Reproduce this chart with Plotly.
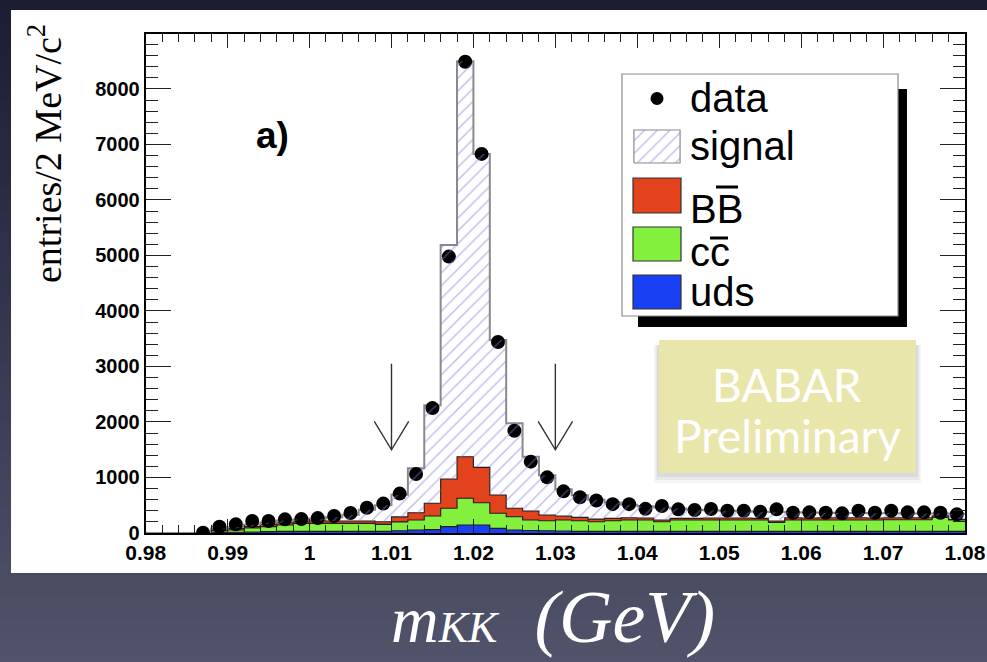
import plotly.graph_objects as go

W, H = 987, 662

# 2 MeV/c^2 binning in m(KK)
BIN_LO, BIN_W, N_BINS = 0.980, 0.002, 50
bin_edges = [round(BIN_LO + BIN_W * i, 3) for i in range(N_BINS + 1)]
bin_centers = [round(BIN_LO + BIN_W * (i + 0.5), 3) for i in range(N_BINS)]

data_counts = [None, None, None, 5, 114, 156, 216, 216, 246, 250,
               268, 306, 360, 455, 530, 710, 1063, 2250, 4980, 8490,
               6830, 3440, 1843, 1285, 1003, 750, 643, 585, 520, 520,
               435, 486, 426, 414, 432, 402, 402, 384, 426, 366,
               372, 366, 354, 402, 366, 402, 372, 372, 366, 336]
uds = [0, 0, 0, 0, 12, 14, 18, 24, 30, 30,
       30, 30, 30, 30, 30, 40, 54, 60, 114, 144,
       144, 84, 54, 45, 40, 36, 30, 30, 30, 30,
       30, 30, 30, 30, 30, 30, 30, 30, 30, 30,
       30, 30, 30, 30, 30, 30, 30, 30, 30, 30]
ccbar = [0, 0, 0, 0, 30, 40, 72, 90, 114, 144,
         144, 144, 144, 144, 126, 160, 180, 246, 331, 481,
         402, 271, 240, 189, 180, 198, 192, 174, 192, 204,
         204, 174, 204, 204, 204, 204, 204, 204, 162, 204,
         204, 204, 204, 204, 204, 210, 210, 210, 252, 204]
bbbar = [0, 0, 0, 0, 24, 30, 24, 42, 42, 48,
         48, 42, 42, 42, 48, 90, 132, 229, 528, 750,
         637, 330, 151, 162, 104, 72, 60, 46, 42, 42,
         36, 30, 30, 30, 36, 36, 36, 30, 24, 42,
         36, 42, 42, 42, 36, 36, 36, 36, 30, 12]
signal = [0, 0, 0, 0, 14, 26, 36, 34, 39, 23,
          33, 69, 114, 204, 296, 400, 799, 1765, 4217, 7125,
          5647, 2792, 1531, 979, 716, 484, 398, 350, 286, 234,
          210, 226, 176, 156, 140, 130, 120, 121, 164, 99,
          100, 89, 84, 84, 85, 79, 74, 74, 38, 99]

# selection window marked by the arrows
cut_positions = [1.010, 1.030]
arrow_top, arrow_tip = 3050, 1500
arrow_half_width, arrow_head_len = 0.0021, 510

x_tick_vals = [0.98, 0.99, 1.00, 1.01, 1.02, 1.03, 1.04, 1.05, 1.06, 1.07, 1.08]
x_tick_text = ["0.98", "0.99", "1", "1.01", "1.02", "1.03", "1.04", "1.05", "1.06", "1.07", "1.08"]
y_tick_vals = [0, 1000, 2000, 3000, 4000, 5000, 6000, 7000, 8000]
y_tick_text = ["0", "1000", "2000", "3000", "4000", "5000", "6000", "7000", "8000"]

RED, GREEN, BLUE = "#e2421c", "#84f03e", "#1a40f4"
HATCH = "#8080dc"


def cumulate(*parts):
    return [sum(v) for v in zip(*parts)]


def steps(vals):
    return list(vals) + list(vals[-1:])


top_uds = list(uds)
top_cc = cumulate(uds, ccbar)
top_bb = cumulate(uds, ccbar, bbbar)
top_all = cumulate(uds, ccbar, bbbar, signal)

fig = go.Figure()

# stacked backgrounds, drawn from the largest cumulative down
for tops, col in [(top_bb, RED), (top_cc, GREEN), (top_uds, BLUE)]:
    fig.add_trace(go.Scatter(
        x=bin_edges, y=steps(tops), mode="lines",
        line=dict(shape="hv", color="#1e1e1e", width=1.1),
        fill="tozeroy", fillcolor=col, hoverinfo="skip", showlegend=False))

# outline of the total (signal + background)
fig.add_trace(go.Scatter(
    x=bin_edges, y=steps(top_all), mode="lines",
    line=dict(shape="hv", color="#8a8a8a", width=2),
    hoverinfo="skip", showlegend=False))

# data points
fig.add_trace(go.Scatter(
    x=bin_centers, y=data_counts, mode="markers",
    marker=dict(symbol="circle", size=14, color="black"),
    showlegend=False))

# hatched signal band between the background top and the total
fig.add_trace(go.Scatter(
    x=bin_edges, y=steps(top_bb), mode="lines",
    line=dict(shape="hv", width=0, color="rgba(0,0,0,0)"),
    hoverinfo="skip", showlegend=False))
fig.add_trace(go.Scatter(
    x=bin_edges, y=steps(top_all), mode="lines",
    line=dict(shape="hv", width=0, color="rgba(0,0,0,0)"),
    fill="tonexty", fillcolor="rgba(0,0,0,0)",
    fillpattern=dict(shape="/", fgcolor=HATCH, bgcolor="rgba(0,0,0,0)",
                     size=9, solidity=0.17, fillmode="overlay"),
    hoverinfo="skip", showlegend=False))

# arrows at the mass window edges
ax, ay = [], []
for c in cut_positions:
    ax += [c, c, None, c - arrow_half_width, c, c + arrow_half_width, None]
    ay += [arrow_top, arrow_tip, None, arrow_tip + arrow_head_len, arrow_tip,
           arrow_tip + arrow_head_len, None]
fig.add_trace(go.Scatter(x=ax, y=ay, mode="lines",
                         line=dict(color="#333333", width=1.4),
                         hoverinfo="skip", showlegend=False))


def px(x):
    return x / W


def py(y):
    return 1 - y / H


# hatched swatch for the key, on its own small hidden axes
sw = dict(x0=633, x1=681, y0=129, y1=164)
fig.add_trace(go.Scatter(
    x=[0, 1, 1, 0, 0], y=[0, 0, 1, 1, 0], mode="lines",
    line=dict(color="#8a8a8a", width=1.2), fill="toself",
    fillcolor="rgba(0,0,0,0)",
    fillpattern=dict(shape="/", fgcolor=HATCH, bgcolor="white",
                     size=9, solidity=0.17),
    xaxis="x2", yaxis="y2", hoverinfo="skip", showlegend=False))

shapes = []
# slide backdrop: vertical gradient
n_strips = 60
top_rgb, bot_rgb = (27, 29, 50), (80, 83, 105)
for i in range(n_strips):
    t = i / (n_strips - 1)
    rgb = tuple(round(a + (b - a) * t) for a, b in zip(top_rgb, bot_rgb))
    shapes.append(dict(type="rect", xref="paper", yref="paper",
                       x0=0, x1=1, y0=1 - (i + 1) / n_strips - 0.002,
                       y1=1 - i / n_strips,
                       fillcolor="rgb(%d,%d,%d)" % rgb, line_width=0,
                       layer="below"))
# white canvas of the plot
shapes.append(dict(type="rect", xref="paper", yref="paper",
                   x0=px(11), x1=1.01, y0=py(573), y1=py(10),
                   fillcolor="white", line_width=0, layer="below"))
# key box with drop shadow
shapes.append(dict(type="rect", xref="paper", yref="paper",
                   x0=px(638), x1=px(907), y0=py(327), y1=py(89),
                   fillcolor="black", line_width=0, layer="below"))
shapes.append(dict(type="rect", xref="paper", yref="paper",
                   x0=px(622), x1=px(898), y0=py(316), y1=py(74),
                   fillcolor="white", line=dict(color="#8c8c8c", width=1.2),
                   layer="below"))
shapes.append(dict(type="circle", xref="paper", yref="paper",
                   x0=px(650.5), x1=px(663.5), y0=py(105), y1=py(92),
                   fillcolor="black", line_width=0, layer="below"))
for (y0, y1), col in [((178, 213), RED), ((227, 261), GREEN), ((275, 309), BLUE)]:
    shapes.append(dict(type="rect", xref="paper", yref="paper",
                       x0=px(633), x1=px(681), y0=py(y1), y1=py(y0),
                       fillcolor=col, line=dict(color="#333333", width=1.2),
                       layer="below"))
# bars over the antiquark symbols in the key
for x0, x1, y in [(716, 738, 187), (710, 728, 238)]:
    shapes.append(dict(type="line", xref="paper", yref="paper",
                       x0=px(x0), x1=px(x1), y0=py(y), y1=py(y),
                       line=dict(color="black", width=3), layer="above"))
# "BABAR Preliminary" tag with soft shadow
for off, alpha in [(10, 0.04), (7, 0.05), (4, 0.06)]:
    shapes.append(dict(type="rect", xref="paper", yref="paper",
                       x0=px(659 - off / 2), x1=px(916 + off / 2),
                       y0=py(473 + off), y1=py(345),
                       fillcolor="rgba(0,0,0,%.2f)" % alpha, line_width=0,
                       layer="below"))
shapes.append(dict(type="rect", xref="paper", yref="paper",
                   x0=px(659), x1=px(916), y0=py(473), y1=py(340),
                   fillcolor="#e9e6ab", line_width=0, layer="below"))

key_font = dict(family="Liberation Sans", size=40, color="black")
tag_font = dict(family="Lato", size=46, color="white", weight=400)
annotations = [
    dict(text="data", x=px(688), y=py(98), xanchor="left", yanchor="middle", font=key_font),
    dict(text="signal", x=px(688), y=py(146), xanchor="left", yanchor="middle", font=key_font),
    dict(text="BB", x=px(688), y=py(209), xanchor="left", yanchor="middle", font=key_font),
    dict(text="cc", x=px(688), y=py(252), xanchor="left", yanchor="middle", font=key_font),
    dict(text="uds", x=px(688), y=py(292), xanchor="left", yanchor="middle", font=key_font),
    dict(text="a)", x=px(272), y=py(135), xanchor="center", yanchor="middle",
         font=dict(family="Liberation Sans", size=37, color="black", weight="bold")),
    dict(text="BABAR", x=px(787), y=py(384), xanchor="center", yanchor="middle",
         font=tag_font),
    dict(text="Preliminary", x=px(787), y=py(436), xanchor="center", yanchor="middle",
         font=tag_font),
    dict(text="entries/2 MeV/c<sup>2</sup>", x=px(45), y=py(154), textangle=-90,
         xanchor="center", yanchor="middle",
         font=dict(family="Liberation Serif", size=38, color="black")),
    dict(text='<span style="font-size:66px">m</span><span style="font-size:44px">KK</span>'
              '\u00a0\u00a0(GeV)',
         x=px(553), y=py(617), xanchor="center", yanchor="middle",
         font=dict(family="Liberation Serif", size=74, color="white", style="italic")),
]
for a in annotations:
    a.update(xref="paper", yref="paper", showarrow=False)

axis_common = dict(showgrid=False, zeroline=False, showline=True, linecolor="black",
                   linewidth=2, mirror="allticks", ticks="inside", tickcolor="#222222",
                   tickwidth=1.3, layer="above traces", automargin=False)

fig.update_layout(
    width=W, height=H, autosize=False,
    margin=dict(l=0, r=0, t=0, b=0, pad=0),
    paper_bgcolor="rgb(52,55,77)", plot_bgcolor="rgba(0,0,0,0)",
    showlegend=False,
    xaxis=dict(domain=[px(145.7), px(965)], range=[0.98, 1.08],
               tickmode="array", tickvals=x_tick_vals, ticktext=x_tick_text, ticklen=14,
               minor=dict(tickmode="linear", tick0=0.98, dtick=0.002, ticklen=8,
                          ticks="inside", tickcolor="#222222", tickwidth=1.3),
               tickfont=dict(family="Liberation Sans", size=21, color="black", weight="bold"),
               **axis_common),
    yaxis=dict(domain=[py(533), py(34)], range=[0, 8990],
               tickmode="array", tickvals=y_tick_vals, ticktext=y_tick_text, ticklen=25,
               minor=dict(tickmode="linear", tick0=0, dtick=200, ticklen=12,
                          ticks="inside", tickcolor="#222222", tickwidth=1.3),
               tickfont=dict(family="Liberation Sans", size=20, color="black", weight="bold"),
               **axis_common),
    xaxis2=dict(domain=[px(sw["x0"]), px(sw["x1"])], range=[-0.02, 1.02],
                visible=False, anchor="y2", fixedrange=True, automargin=False),
    yaxis2=dict(domain=[py(sw["y1"]), py(sw["y0"])], range=[-0.03, 1.03],
                visible=False, anchor="x2", fixedrange=True, automargin=False),
    shapes=shapes,
    annotations=annotations,
)

fig.write_html("out.html")
